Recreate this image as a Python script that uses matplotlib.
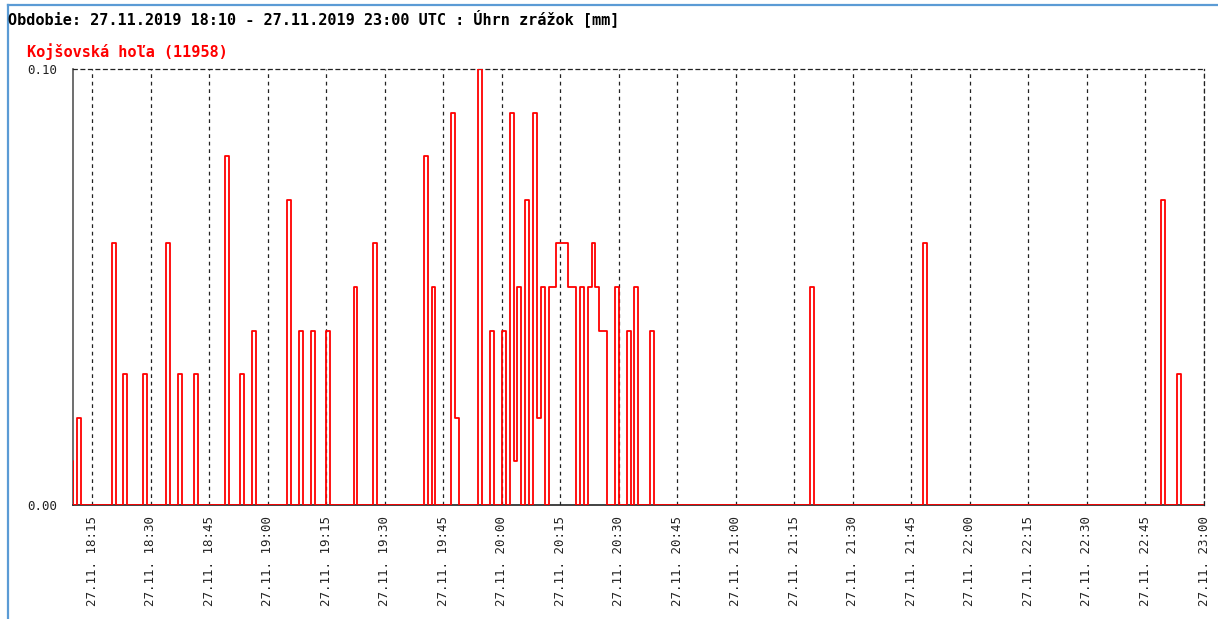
import numpy as np
import pandas as pd
import matplotlib
matplotlib.use("Agg")
import matplotlib.pyplot as plt
from matplotlib.lines import Line2D

TITLE = "Obdobie: 27.11.2019 18:10 - 27.11.2019 23:00 UTC : Úhrn zrážok [mm]"
STATION = "Kojšovská hoľa (11958)"

# minutes after 18:10 with non-zero precipitation, all other minutes are 0.00
rain_minute = [-1, 1, 10, 13, 18, 24, 27, 31, 39, 43, 46, 55, 58, 61, 65, 72, 77,
               90, 92, 97, 98, 104, 107, 110, 112, 113, 114, 116, 118, 119, 120,
               122, 123, 124, 125, 126, 127, 128, 130, 132, 133, 134, 135, 136,
               139, 142, 144, 148, 189, 218, 279, 283]
rain_mm = [0.01, 0.02, 0.06, 0.03, 0.03, 0.06, 0.03, 0.03, 0.08, 0.03, 0.04, 0.07,
           0.04, 0.04, 0.04, 0.05, 0.06, 0.08, 0.05, 0.09, 0.02, 0.10, 0.04, 0.04,
           0.09, 0.01, 0.05, 0.07, 0.09, 0.02, 0.05, 0.05, 0.05, 0.06, 0.06, 0.06,
           0.05, 0.05, 0.05, 0.05, 0.06, 0.05, 0.04, 0.04, 0.05, 0.04, 0.05, 0.04,
           0.05, 0.06, 0.07, 0.03]

period_minutes = 290
tick_times = pd.date_range("2019-11-27 18:15", "2019-11-27 23:00", freq="15min")
tick_labels = [t.strftime("%d.%m. %H:%M") for t in tick_times]
tick_pos = [(t - pd.Timestamp("2019-11-27 18:10")).seconds / 60 for t in tick_times]

# build per-minute series
minutes = np.arange(-1, period_minutes)
values = np.zeros(len(minutes))
for m, v in zip(rain_minute, rain_mm):
    values[m + 1] = v

edges = np.append(minutes, period_minutes)
vals = np.append(values, values[-1])

fig = plt.figure(figsize=(12.18, 6.19), dpi=100)
ax = fig.add_axes([72.7 / 1218, 1 - 505 / 619, (1204 - 72.7) / 1218, (505 - 69) / 619])

ax.step(edges, vals, where="post", color="#ff0000", lw=1.3, zorder=3)

ax.set_xlim(0, period_minutes)
ax.set_ylim(0, 0.10)

for x in tick_pos:
    ax.axvline(x, color="#222222", lw=0.9, ls=(0, (3, 3)), zorder=1)

ax.set_xticks(tick_pos)
ax.set_xticklabels(tick_labels, rotation=90, family="DejaVu Sans Mono",
                   fontsize=9, color="#222222")
ax.set_yticks([0, 0.10])
ax.set_yticklabels(["0.00", "0.10"], family="DejaVu Sans Mono", fontsize=9,
                   color="#222222")
ax.tick_params(axis="x", length=0, pad=8)
ax.tick_params(axis="y", length=0, pad=11)

for side in ["top", "right"]:
    ax.spines[side].set_linestyle((0, (3, 3)))
    ax.spines[side].set_color("#222222")
    ax.spines[side].set_linewidth(0.9)
ax.spines["left"].set_color("#555555")
ax.spines["left"].set_linewidth(1.2)
ax.spines["bottom"].set_color("#222222")
ax.spines["bottom"].set_linewidth(1.2)

fig.text(8 / 1218, 1 - 18 / 619, TITLE, family="DejaVu Sans Mono", weight="bold",
         fontsize=11, va="center", ha="left", color="black")
fig.text(27 / 1218, 1 - 52 / 619, STATION, family="DejaVu Sans Mono", weight="bold",
         fontsize=11, va="center", ha="left", color="#ff0000")

# blue frame around the picture
fig.add_artist(Line2D([7.5 / 1218, 7.5 / 1218], [0, 1 - 5 / 619], color="#5b9bd5", lw=1.6))
fig.add_artist(Line2D([7.5 / 1218, 1], [1 - 5 / 619, 1 - 5 / 619], color="#5b9bd5", lw=1.6))

fig.savefig("out.png", dpi=100)
